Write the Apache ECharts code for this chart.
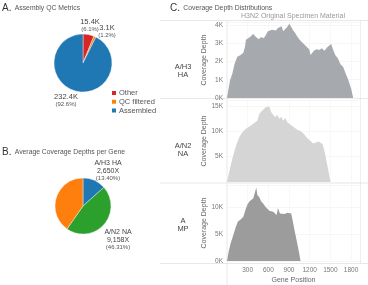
<!DOCTYPE html>
<html>
<head>
<meta charset="utf-8">
<script src="https://cdn.jsdelivr.net/npm/echarts@6/dist/echarts.min.js"></script>
<style>html,body{margin:0;padding:0;background:#fff}#chart{width:368px;height:285px}</style>
</head>
<body>
<div id="chart"></div>
<script>
// A. assembly QC metrics (reads, K)
const qcNames = ['Other', 'QC filtered', 'Assembled'];
const qcValues = [15.4, 3.1, 232.4];
const qcPct = ['6.1%', '1.2%', '92.6%'];
const qcColors = ['#d62728', '#ff7f0e', '#1f77b4'];

// B. average coverage depth per gene
const geneNames = ['A/H3 HA', 'A/N2 NA', 'A MP'];
const geneDepths = [2650, 9158, 7967];
const genePct = ['13.40%', '46.31%', '40.29%'];
const geneColors = ['#1f77b4', '#2ca02c', '#ff7f0e'];

// C. coverage depth along each gene
const haPos = [0,14,43,77,111,150,198,237,261,275,304,343,382,401,430,459,488,512,536,565,594,623,652,681,710,739,768,792,816,845,874,903,932,961,990,1019,1048,1077,1116,1154,1193,1212,1232,1261,1299,1338,1376,1415,1454,1483,1512,1541,1570,1608,1647,1686,1724,1763,1802,1831];
const haDepth = [0,310,960,1330,1890,2260,2350,2480,2810,3190,3220,3370,3520,3410,3330,3220,3330,3410,3280,3460,3650,3560,3740,3800,3700,3830,3740,3930,3650,3780,3890,4060,3890,3700,3560,3370,3220,3090,2960,2810,2670,2350,2260,2590,2670,2630,2720,2590,2780,2850,2960,2630,2350,2170,1850,1700,1330,960,500,0];
const naPos = [0,29,63,101,140,179,222,256,295,343,391,440,469,497,527,555,584,613,642,671,700,729,758,787,816,845,874,922,971,1019,1067,1116,1164,1212,1251,1290,1328,1357,1386,1415,1444,1473,1502];
const naDepth = [0,1800,3800,5800,7500,8900,9800,10300,10700,11100,11600,12100,13500,13800,14300,14700,14500,14900,13800,13500,12800,13300,12500,12900,12100,12700,11800,11300,10800,10300,10100,9500,8700,8100,7600,7800,8000,8300,7500,6100,4100,2100,0];
const mpPos = [0,24,53,92,130,159,198,237,266,295,324,353,382,411,425,440,469,497,527,555,584,613,642,671,700,720,739,768,797,836,874,903,932,951,980,1019,1048,1067];
const mpDepth = [0,1700,3300,4800,6400,7300,7700,8200,9400,10400,11000,11300,11600,11900,13600,12200,11800,11000,10600,10100,9800,9300,9400,9100,9300,8500,9800,8800,8950,8700,8950,9000,8800,7600,5700,3300,1400,0];
const xTicks = [300, 600, 900, 1200, 1500, 1800];
const rowLabels = ['A/H3\nHA', 'A/N2\nNA', 'A\nMP'];

const font = 'Liberation Sans, Arial, sans-serif';
const chart = echarts.init(document.getElementById('chart'));

// label spots for the pie texts
const qcLabelAt = [[90, 25], [107, 31], [66, 100]];
const geneLabelAt = [[108, 171], [118, 240], [40, 188]];

const grids = [
  {left: 227, width: 133, top: 22, height: 76},
  {left: 227, width: 133, top: 100, height: 82},
  {left: 227, width: 133, top: 185, height: 76}
];
const yMax = [4160, 16200, 14070];
const yStep = [1000, 5000, 5000];
const areaColors = ['#a6a9ae', '#d5d5d5', '#9c9c9c'];
const areaData = [[haPos, haDepth], [naPos, naDepth], [mpPos, mpDepth]];

const xAxes = grids.map((g, i) => ({
  type: 'value', gridIndex: i, min: 0, max: 1930, interval: 300,
  axisLine: {show: false}, axisTick: {show: false},
  axisLabel: {
    show: i === 2, fontSize: 6.5, color: '#777', fontFamily: font, margin: 6,
    showMaxLabel: false,
    formatter: v => xTicks.indexOf(v) >= 0 ? String(v) : ''
  },
  splitLine: {show: true, lineStyle: {color: '#f3f3f3', width: 0.6}},
  name: i === 2 ? 'Gene Position' : '', nameLocation: 'middle', nameGap: 16,
  nameTextStyle: {fontSize: 7, color: '#666', fontFamily: font}
}));

const yAxes = grids.map((g, i) => ({
  type: 'value', gridIndex: i, min: 0, max: yMax[i], interval: yStep[i],
  axisLine: {show: false}, axisTick: {show: false},
  axisLabel: {
    fontSize: 6.5, color: '#777', fontFamily: font, margin: 4,
    showMaxLabel: false, showMinLabel: i !== 1,
    formatter: v => (v / 1000) + 'K'
  },
  splitLine: {show: true, lineStyle: {color: '#f0f0f0', width: 0.6}},
  name: 'Coverage Depth', nameLocation: 'middle', nameGap: 19,
  nameTextStyle: {fontSize: 7, color: '#666', fontFamily: font}
}));

const areaSeries = areaData.map((d, i) => ({
  type: 'line', xAxisIndex: i, yAxisIndex: i,
  data: d[0].map((x, k) => [x, d[1][k]]),
  showSymbol: false, silent: true,
  lineStyle: {width: 0},
  areaStyle: {color: areaColors[i], opacity: 1}
}));

function sepLine(x1, y1, x2, y2) {
  return {type: 'line', silent: true, shape: {x1, y1, x2, y2},
    style: {stroke: '#e2e2e2', lineWidth: 0.8}};
}
function heading(x, y, letter, text) {
  return {type: 'text', x, y, style: {
    text: '{l|' + letter + '} {t|' + text + '}', verticalAlign: 'middle',
    rich: {l: {fontSize: 10, fill: '#333', fontFamily: font},
           t: {fontSize: 6.8, fill: '#555', fontFamily: font}}
  }};
}

const graphics = [
  heading(2, 8, 'A.', 'Assembly QC Metrics'),
  heading(2, 152, 'B.', 'Average Coverage Depths per Gene'),
  heading(170, 8, 'C.', 'Coverage Depth Distributions'),
  {type: 'text', x: 293, y: 16, style: {text: 'H3N2 Original Specimen Material',
    fontSize: 7, fill: '#999', fontFamily: font, align: 'center', verticalAlign: 'middle'}},
  sepLine(160, 20.5, 368, 20.5),
  sepLine(160, 98.5, 368, 98.5),
  sepLine(160, 183, 368, 183),
  sepLine(160, 263.5, 368, 263.5),
  sepLine(227, 20.5, 227, 285),
  sepLine(360.5, 20.5, 360.5, 263.5)
];
[71, 150, 225].forEach((y, i) => {
  graphics.push({type: 'text', x: 183, y, style: {text: rowLabels[i], fontSize: 7.5,
    lineHeight: 8.5, fill: '#444', fontFamily: font, align: 'center', verticalAlign: 'middle'}});
});

chart.setOption({
  animation: false,
  textStyle: {fontFamily: font},
  grid: grids,
  xAxis: xAxes,
  yAxis: yAxes,
  legend: {
    data: qcNames, orient: 'vertical', left: 110, top: 89,
    icon: 'rect', itemWidth: 6, itemHeight: 6, itemGap: 0.8, padding: 0,
    textStyle: {fontSize: 7.5, color: '#555', fontFamily: font, padding: [0, 0, 0, -3]},
    selectedMode: false
  },
  series: [
    {
      type: 'pie', center: [83, 63], radius: 29, silent: true,
      itemStyle: {borderColor: '#fff', borderWidth: 0.4},
      data: qcNames.map((n, i) => ({name: n, value: qcValues[i], itemStyle: {color: qcColors[i]}})),
      label: {
        position: 'outside', color: '#444',
        formatter: p => '{a|' + qcValues[p.dataIndex] + 'K}\n{b|(' + qcPct[p.dataIndex] + ')}',
        rich: {a: {fontSize: 7.5, color: '#444', lineHeight: 8, fontFamily: font},
               b: {fontSize: 6, color: '#555', lineHeight: 7, fontFamily: font}}
      },
      labelLine: {show: false},
      labelLayout: p => ({x: qcLabelAt[p.dataIndex][0], y: qcLabelAt[p.dataIndex][1],
        align: 'center', verticalAlign: 'middle'})
    },
    {
      type: 'pie', center: [83, 206], radius: 28, silent: true,
      itemStyle: {borderColor: '#fff', borderWidth: 0.4},
      data: geneNames.map((n, i) => ({name: n, value: geneDepths[i], itemStyle: {color: geneColors[i]}})),
      label: {
        position: 'outside', color: '#444',
        formatter: p => '{a|' + geneNames[p.dataIndex] + '}\n{a|' +
          geneDepths[p.dataIndex].toLocaleString('en-US') + 'X}\n{b|(' + genePct[p.dataIndex] + ')}',
        rich: {a: {fontSize: 7, color: '#444', lineHeight: 7.5, fontFamily: font},
               b: {fontSize: 6, color: '#555', lineHeight: 7.5, fontFamily: font}}
      },
      labelLine: {show: false},
      labelLayout: p => ({x: geneLabelAt[p.dataIndex][0], y: geneLabelAt[p.dataIndex][1],
        align: 'center', verticalAlign: 'middle'})
    }
  ].concat(areaSeries),
  graphic: graphics
});
</script>
</body>
</html>
